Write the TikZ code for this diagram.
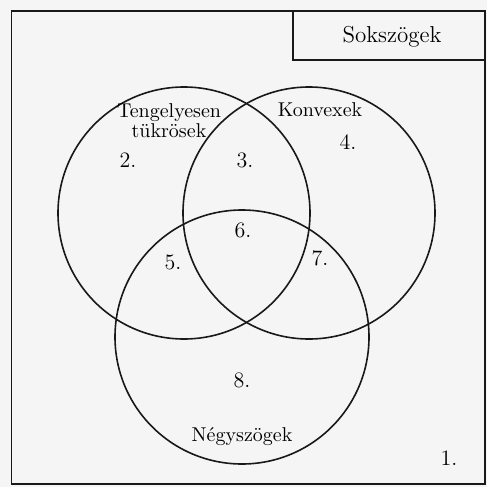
\documentclass[tikz,border=0pt]{standalone}
\usepackage{fontspec}
\begin{document}
\begin{tikzpicture}[x=0.5pt,y=-0.5pt,
  ring/.style={draw=black!90, line width=0.8pt},
  frame/.style={draw=black!90, line width=0.8pt},
  lbl/.style={font=\fontsize{10}{11}\selectfont, inner sep=0pt, text=black},
  num/.style={font=\fontsize{11}{12}\selectfont, inner sep=0pt, text=black}]
\useasboundingbox (0,0) rectangle (487,487);
\fill[black!4] (0,0) rectangle (487,487);
% outer frame
\draw[frame] (11.5,11) rectangle (485,484);
\coordinate (tl) at (293,11);
\coordinate (br) at (485,60);
\draw[frame] (tl) -- (293,60) -- (br);
\node[num, font=\fontsize{11.5}{12}\selectfont] (sok) at (392,37) {Sokszögek};
% circles
\node[ring, circle, minimum size=126pt, inner sep=0pt] (L) at (184,213) {};
\node[ring, circle, minimum size=126pt, inner sep=0pt] (R) at (309,213) {};
\node[ring, circle, minimum size=127pt, inner sep=0pt] (B) at (242,337) {};
% labels
\node[lbl, align=center] (tk) at (169,121) {Tengelyesen\\[-1pt]tükrösek};
\node[lbl] (kv) at (320,110) {Konvexek};
\node[lbl] (ng) at (242,437) {Négyszögek};
\node[num] (n1) at (449,458) {1.};
\node[num] (n2) at (128,160) {2.};
\node[num] (n3) at (245,160) {3.};
\node[num] (n4) at (348,142) {4.};
\node[num] (n5) at (173,262) {5.};
\node[num] (n6) at (243,230) {6.};
\node[num] (n7) at (320,258) {7.};
\node[num] (n8) at (242,380) {8.};
\end{tikzpicture}
\end{document}
